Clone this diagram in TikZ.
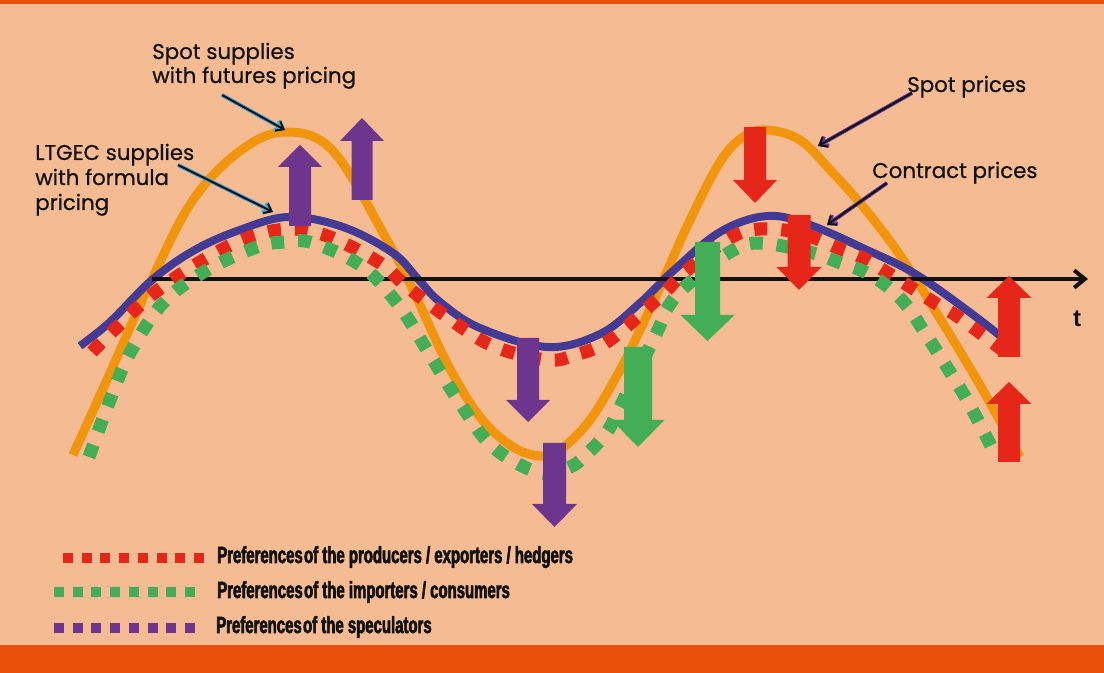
\documentclass[tikz,border=0pt]{standalone}
\usepackage{fontspec}
\newfontfamily\annfont[FakeBold=0.6]{Poppins}
\newfontfamily\legfont[FakeStretch=0.64,FakeBold=2.5]{Liberation Sans}
\newfontfamily\axfont{Liberation Sans}
\usetikzlibrary{arrows.meta}
\definecolor{bg}{HTML}{F5BC94}
\definecolor{barorange}{HTML}{E8500A}
\definecolor{spotorange}{HTML}{F0950C}
\definecolor{contractblue}{HTML}{433A95}
\definecolor{prodred}{HTML}{E52618}
\definecolor{impgreen}{HTML}{43AE55}
\definecolor{specpurple}{HTML}{6E358F}
\definecolor{glowblue}{HTML}{3FA9E0}
\definecolor{glowpurple}{HTML}{6A3A9A}
\definecolor{ink}{HTML}{111111}
% block arrow: color, x, y tail, y head base, y tip, shaft half width, head half width
\newcommand\blockarr[7]{%
  \fill[#1] ({#2-#6},#3) -- ({#2-#6},#4) -- ({#2-#7},#4) -- (#2,#5)
    -- ({#2+#7},#4) -- ({#2+#6},#4) -- ({#2+#6},#3) -- cycle;}
\tikzset{
  spotcurve/.style={spotorange, line width=6.75pt, line cap=butt},
  contractcurve/.style={contractblue, line width=6pt},
  dotcurve/.style={line width=9.75pt, dash pattern=on 9.75pt off 10.5pt},
  legdots/.style={line width=7.5pt, dash pattern=on 7.5pt off 6.53pt},
  anntext/.style={font=\annfont\fontsize{16}{18}\selectfont, text=ink, inner sep=0pt, align=left},
  legtext/.style={font=\legfont\bfseries\fontsize{17.5}{19}\selectfont, text=ink, inner sep=0pt, anchor=base west},
  callglow/.style={line width=3pt, -{Straight Barb[length=5pt,width=8pt]}},
  callcore/.style={ink, line width=1.5pt, -{Straight Barb[length=5pt,width=8pt]}},
}
\begin{document}
\begin{tikzpicture}[x=0.75pt,y=-0.75pt]
\useasboundingbox (0,0) rectangle (1104,673);
\fill[bg] (0,0) rectangle (1104,673);
\fill[barorange] (0,0) rectangle (1104,4);
\fill[barorange] (0,645) rectangle (1104,673);

% spot prices curve
\draw[spotcurve] plot[smooth, tension=0.6] coordinates {(73,455) (110,373) (152,279) (193,200) (240,151) (285,132) (333,151) (387,240) (413,290) (447,363) (480,417) (513,447) (541,456) (560,450) (590,420) (620,370) (640,330) (660,287) (690,220) (720,162) (743,137) (766,130) (800,140) (833,173) (860,203) (887,237) (910,270) (933,307) (977,380) (1020,457)};
% contract prices curve
\draw[contractcurve] plot[smooth, tension=0.6] coordinates {(80,346) (110,322) (152,280) (193,251) (237,231) (288,217) (343,227) (393,253) (418,279) (440,302) (480,328) (547,347) (600,334) (640,303) (673,271) (720,232) (767,216) (810,225) (867,250) (917,275) (980,320) (1017,350)};

% time axis
\coordinate (axs) at (152,279);
\coordinate (axe) at (1088,279);
\draw[ink, line width=3pt, -{Straight Barb[length=8pt,width=13pt]}] (axs) -- (axe);
\node[font=\axfont\bfseries\fontsize{18}{20}\selectfont, text=ink, inner sep=0pt, anchor=base] (tlab) at (1077,327) {t};

% producers preferences
\draw[dotcurve, prodred] plot[smooth, tension=0.6] coordinates {(92,352) (113,331) (153,294) (200,262) (247,238) (290,229) (330,237) (380,263) (405,285) (447,317) (493,346) (547,360) (575,355) (602,345) (625,328) (645,310) (665,292) (685,272) (730,238) (760,229) (800,233) (838,248) (863,258) (888,273) (912,288) (935,303) (960,318) (1005,352)};
% importers preferences
\draw[dotcurve, impgreen] plot[smooth, tension=0.6] coordinates {(89,457) (110,400) (130,353) (163,303) (207,270) (257,247) (285,242) (313,243) (363,267) (400,307) (430,355) (460,403) (493,447) (540,473) (570,467) (588,453) (607,432) (620,407) (657,332) (668,307) (687,285) (730,252) (760,243) (813,253) (838,262) (865,272) (888,287) (908,307) (923,330) (938,353) (967,400) (993,450)};

% block arrows
\blockarr{specpurple}{300}{226}{167}{145}{11}{22}
\blockarr{specpurple}{362}{200}{141}{118}{10.5}{22}
\blockarr{prodred}{755}{127}{180}{203}{11}{22}
\blockarr{prodred}{799}{215}{267}{290}{11.5}{22.5}
\blockarr{impgreen}{707.5}{242}{315}{341}{12.5}{27}
\blockarr{impgreen}{638}{347}{420}{447}{14}{26.5}
\blockarr{specpurple}{528}{338}{400}{422}{11}{22}
\blockarr{specpurple}{554.5}{443}{504}{527}{11.5}{22.5}
\blockarr{prodred}{1009}{357}{298}{276}{11}{22.5}
\blockarr{prodred}{1009}{462}{404}{382}{11}{22.5}

% labels (base anchor = baseline of the last line)
\node[anntext, anchor=base west] (spotsup) at (152,83) {Spot supplies\\with futures pricing};
\node[anntext, font=\annfont\fontsize{16}{18.75}\selectfont, anchor=base west] (ltgec) at (35,210) {LTGEC supplies\\with formula\\pricing};
\node[anntext, anchor=base west] (spotpr) at (907,92) {Spot prices};
\node[anntext, anchor=base west] (contrpr) at (872,178) {Contract prices};

% callout arrows
\coordinate (ssA) at (222,95);  \coordinate (ssB) at (285,130);
\coordinate (ltA) at (178,165); \coordinate (ltB) at (273,212);
\coordinate (spA) at (912,93);  \coordinate (spB) at (818,146);
\coordinate (cpA) at (887,183); \coordinate (cpB) at (827,225);
\draw[callglow, glowblue] (ssA) -- (ssB);
\draw[callcore] (ssA) -- (ssB);
\draw[callglow, glowblue] (ltA) -- (ltB);
\draw[callcore] (ltA) -- (ltB);
\draw[callglow, glowpurple] (spA) -- (spB);
\draw[callcore] (spA) -- (spB);
\draw[callglow, glowpurple] (cpA) -- (cpB);
\draw[callcore] (cpA) -- (cpB);

% legend
\coordinate (lr1) at (63,558);  \coordinate (lr2) at (204,558);
\coordinate (lg1) at (54,592);  \coordinate (lg2) at (195,592);
\coordinate (lp1) at (54,628);  \coordinate (lp2) at (195,628);
\draw[legdots, prodred] (lr1) -- (lr2);
\draw[legdots, impgreen] (lg1) -- (lg2);
\draw[legdots, specpurple] (lp1) -- (lp2);
\node[legtext] (legprod) at (217,563) {Preferences\hspace{1pt}of the producers / exporters / hedgers};
\node[legtext] (legimp) at (217,598) {Preferences\hspace{1pt}of the importers / consumers};
\node[legtext] (legspec) at (216,633) {Preferences\hspace{1pt}of the speculators};
\end{tikzpicture}
\end{document}
